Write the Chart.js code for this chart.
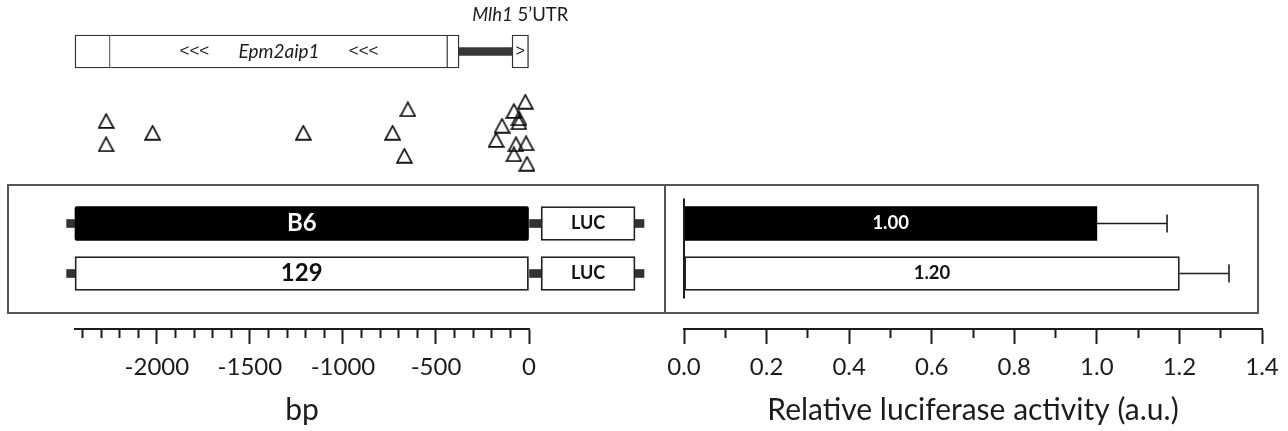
<!DOCTYPE html>
<html>
<head>
<meta charset="utf-8">
<script src="https://cdn.jsdelivr.net/npm/chart.js@4.4.1/dist/chart.umd.min.js"></script>
<style>
  html, body { margin: 0; padding: 0; background: #fff; }
  #wrap { position: relative; width: 1288px; height: 431px; overflow: hidden; }
  #wrap canvas { position: absolute; left: 0; top: 0; }
  .frame { position: absolute; box-sizing: border-box; border: 2px solid #555; }
</style>
</head>
<body>
<div id="wrap">
  <div class="frame" style="left:7px;top:184px;width:659px;height:130px"></div>
  <div class="frame" style="left:664px;top:184px;width:595px;height:130px"></div>
  <canvas id="map" width="1288" height="431"></canvas>
  <canvas id="luc" width="1288" height="431"></canvas>
</div>
<script>
// ---- Promoter map (bp relative to the Mlh1 transcription start) ----
const constructNames = ['B6', '129'];
const promoterSpan = [-2440, 0];
const epm2aip1Blocks = [[-2440, -2250], [-2250, -437], [-437, -376]];
const intergenicSpan = [-376, -91];
const mlh1Exon1 = [-91, 0];
const lucSpan = [65, 570];
const vectorStubs = [[-2485, -2440], [0, 65], [570, 618]];

// SNP positions between the strains and their stacking lane
const snpPos  = [-2273, -2273, -2023, -1213, -733, -651, -670, -20, -81, -54, -54, -145, -177, -70, -16, -81, -11];
const snpLane = [20.8, 18.47, 19.63, 19.63, 19.63, 21.97, 17.33, 22.73, 21.8, 21.07, 20.67, 20.33, 18.9, 18.47, 18.57, 17.47, 16.53];

const bpTickLabels = [-2000, -1500, -1000, -500, 0];

// ---- Luciferase reporter assay ----
const activity = [1.00, 1.20];
const activityErr = [0.17, 0.12];
const activityTickLabels = [0.0, 0.2, 0.4, 0.6, 0.8, 1.0, 1.2, 1.4];

// ---- Layout (vertical tracks, 1 unit = 10 px above the axis) ----
const Y_MAX = 32.9;
const ROW = { gene: 27.75, B6: 10.55, '129': 5.55 };
const FONT = 'Lato, "Open Sans", sans-serif';
const INK = '#1c1c1c';

function drawRuns(ctx, runs, cx, cy, size, weight, color) {
  const fonts = runs.map(r => `${r.italic ? 'italic ' : ''}${weight} ${r.size || size}px ${r.family || FONT}`);
  const widths = runs.map((r, i) => { ctx.font = fonts[i]; return ctx.measureText(r.text).width; });
  let x = cx - widths.reduce((a, b) => a + b, 0) / 2;
  ctx.fillStyle = color;
  ctx.textBaseline = 'middle';
  ctx.textAlign = 'left';
  runs.forEach((r, i) => { ctx.font = fonts[i]; ctx.fillText(r.text, x, cy); x += widths[i]; });
}

// Text placed at the middle of each bar (or above it)
const captionPlugin = {
  id: 'captions',
  afterDatasetsDraw(chart) {
    const ctx = chart.ctx;
    chart.data.datasets.forEach((ds, di) => {
      if (!ds.captions) return;
      chart.getDatasetMeta(di).data.forEach((el, i) => {
        const p = el.getProps(['x', 'y', 'base', 'height'], true);
        ds.captions.forEach(c => {
          const runs = typeof c.runs === 'function' ? c.runs(i) : c.runs;
          if (!runs) return;
          const color = typeof c.color === 'function' ? c.color(i) : c.color;
          const cy = c.above ? p.y - p.height / 2 - c.above : p.y;
          ctx.save();
          drawRuns(ctx, runs, (p.x + p.base) / 2, cy, c.size, c.weight || 'normal', color);
          ctx.restore();
        });
      });
    });
  }
};

// Error bars and the zero line of the activity panel
const errorBarPlugin = {
  id: 'errorBars',
  afterDatasetsDraw(chart) {
    const ctx = chart.ctx;
    const xs = chart.scales.x;
    const bars = chart.getDatasetMeta(0).data;
    ctx.save();
    ctx.strokeStyle = INK;
    ctx.lineWidth = 1.6;
    bars.forEach((el, i) => {
      const x0 = xs.getPixelForValue(activity[i]);
      const x1 = xs.getPixelForValue(activity[i] + activityErr[i]);
      ctx.beginPath();
      ctx.moveTo(x0, el.y); ctx.lineTo(x1, el.y);
      ctx.moveTo(x1, el.y - 9); ctx.lineTo(x1, el.y + 9);
      ctx.stroke();
    });
    const tops = bars.map(b => b.y - b.height / 2);
    const bottoms = bars.map(b => b.y + b.height / 2);
    const zx = xs.getPixelForValue(0);
    ctx.lineWidth = 2;
    ctx.beginPath();
    ctx.moveTo(zx, Math.min(...tops) - 8);
    ctx.lineTo(zx, Math.max(...bottoms) + 8);
    ctx.stroke();
    ctx.restore();
  }
};

function triangleMarker() {
  const c = document.createElement('canvas');
  c.width = 17; c.height = 16;
  const g = c.getContext('2d');
  g.strokeStyle = '#0d0d0d';
  g.lineWidth = 1.7;
  g.beginPath();
  g.moveTo(8.5, 1.2); g.lineTo(15.8, 14.8); g.lineTo(1.2, 14.8); g.closePath();
  g.stroke();
  return c;
}

function bottomAxis(min, max, step, isMajor, label, title) {
  return {
    type: 'linear', position: 'bottom', min, max, offset: false,
    border: { display: true, color: INK, width: 2 },
    grid: {
      display: true, drawOnChartArea: false, offset: false,
      tickLength: 15, tickWidth: 2, tickColor: INK,
      tickBorderDash: ctx => (ctx.tick && isMajor(ctx.tick.value)) ? [] : [8, 100]
    },
    ticks: {
      stepSize: step, includeBounds: false, autoSkip: false, maxRotation: 0, minRotation: 0,
      padding: 9, color: INK, font: { family: FONT, size: 24 },
      callback: v => isMajor(v) ? label(v) : ''
    },
    title: { display: true, text: title, color: INK, font: { family: FONT, size: 30 }, padding: { top: 2, bottom: 0 } }
  };
}

const hiddenY = { type: 'linear', display: false, min: 0, max: Y_MAX, offset: false, grid: { offset: false } };
const layoutPad = (left, right) => ({ autoPadding: false, padding: { left, right, top: 0, bottom: 2.2 } });

function build() {
  const tri = triangleMarker();
  const barBase = { type: 'bar', indexAxis: 'y', grouped: false, borderSkipped: false, clip: false };
  const arrows = { text: '<<<', size: 17, family: '"Liberation Sans", sans-serif' };

  new Chart(document.getElementById('map'), {
    type: 'bar',
    data: {
      datasets: [
        Object.assign({}, barBase, {
          data: epm2aip1Blocks.map(b => ({ x: b, y: ROW.gene })),
          barThickness: 33, backgroundColor: '#fff', borderColor: '#333',
          borderWidth: ctx => ctx.dataIndex === 0 ? 1.4 : { top: 1.4, bottom: 1.4, left: 0, right: 1.4 },
          captions: [{
            runs: i => i === 1 ? [arrows, { text: '      ' }, { text: 'Epm2aip1', italic: true }, { text: '      ' }, arrows] : null,
            size: 19, color: INK
          }]
        }),
        Object.assign({}, barBase, {
          data: [{ x: mlh1Exon1, y: ROW.gene }],
          barThickness: 33, backgroundColor: '#fff', borderColor: '#333', borderWidth: 1.4,
          captions: [
            { runs: [{ text: '>', family: '"Liberation Sans", sans-serif' }], size: 16, color: INK },
            { runs: [{ text: 'Mlh1', italic: true }, { text: ' 5\u2019UTR' }], size: 18.5, color: INK, above: 20 }
          ]
        }),
        Object.assign({}, barBase, {
          data: [{ x: intergenicSpan, y: ROW.gene }],
          barThickness: 8, backgroundColor: '#383838', borderWidth: 0
        }),
        {
          type: 'scatter', clip: false,
          data: snpPos.map((p, i) => ({ x: p, y: snpLane[i] })),
          pointStyle: tri, pointRadius: 8
        },
        Object.assign({}, barBase, {
          data: constructNames.map(n => ({ x: promoterSpan, y: ROW[n] })),
          barThickness: 34, backgroundColor: ['#000', '#fff'], borderColor: '#222',
          borderWidth: [0, 1.8], borderRadius: [2, 0],
          captions: [{ runs: i => [{ text: constructNames[i] }], weight: 'bold', size: 24, color: i => i === 0 ? '#fff' : '#111' }]
        }),
        Object.assign({}, barBase, {
          data: constructNames.map(n => ({ x: lucSpan, y: ROW[n] })),
          barThickness: 34, backgroundColor: '#fff', borderColor: '#222', borderWidth: 1.8,
          captions: [{ runs: [{ text: 'LUC' }], weight: 'bold', size: 18, color: '#111' }]
        }),
        Object.assign({}, barBase, {
          data: constructNames.flatMap(n => vectorStubs.map(s => ({ x: s, y: ROW[n] }))),
          barThickness: 8, backgroundColor: '#333', borderWidth: 0
        })
      ]
    },
    options: {
      responsive: false, animation: false, events: [],
      layout: layoutPad(75, 759),
      plugins: { legend: { display: false }, tooltip: { enabled: false } },
      scales: {
        x: bottomAxis(-2440, 0, 100, v => bpTickLabels.includes(v), v => String(v), 'bp'),
        y: hiddenY
      }
    },
    plugins: [captionPlugin]
  });

  new Chart(document.getElementById('luc'), {
    type: 'bar',
    data: {
      datasets: [
        Object.assign({}, barBase, {
          data: constructNames.map((n, i) => ({ x: activity[i], y: ROW[n] })),
          barThickness: 34, backgroundColor: ['#000', '#fff'], borderColor: '#222', borderWidth: [0, 1.8],
          captions: [{ runs: i => [{ text: activity[i].toFixed(2) }], weight: 'bold', size: 18.5, color: i => i === 0 ? '#fff' : '#111' }]
        })
      ]
    },
    options: {
      responsive: false, animation: false, events: [],
      layout: layoutPad(684, 26),
      plugins: { legend: { display: false }, tooltip: { enabled: false } },
      scales: {
        x: bottomAxis(0, 1.4, 0.1,
          v => activityTickLabels.some(t => Math.abs(t - v) < 1e-6),
          v => v.toFixed(1), 'Relative luciferase activity (a.u.)'),
        y: hiddenY
      }
    },
    plugins: [captionPlugin, errorBarPlugin]
  });
}

let built = false;
function start() { if (!built) { built = true; build(); } }
Promise.all([
  document.fonts.load(`24px ${FONT}`),
  document.fonts.load(`bold 22px ${FONT}`),
  document.fonts.load(`italic 19px ${FONT}`),
  document.fonts.load('17px "Liberation Sans"')
]).then(start, start);
setTimeout(start, 1500);
</script>
</body>
</html>
